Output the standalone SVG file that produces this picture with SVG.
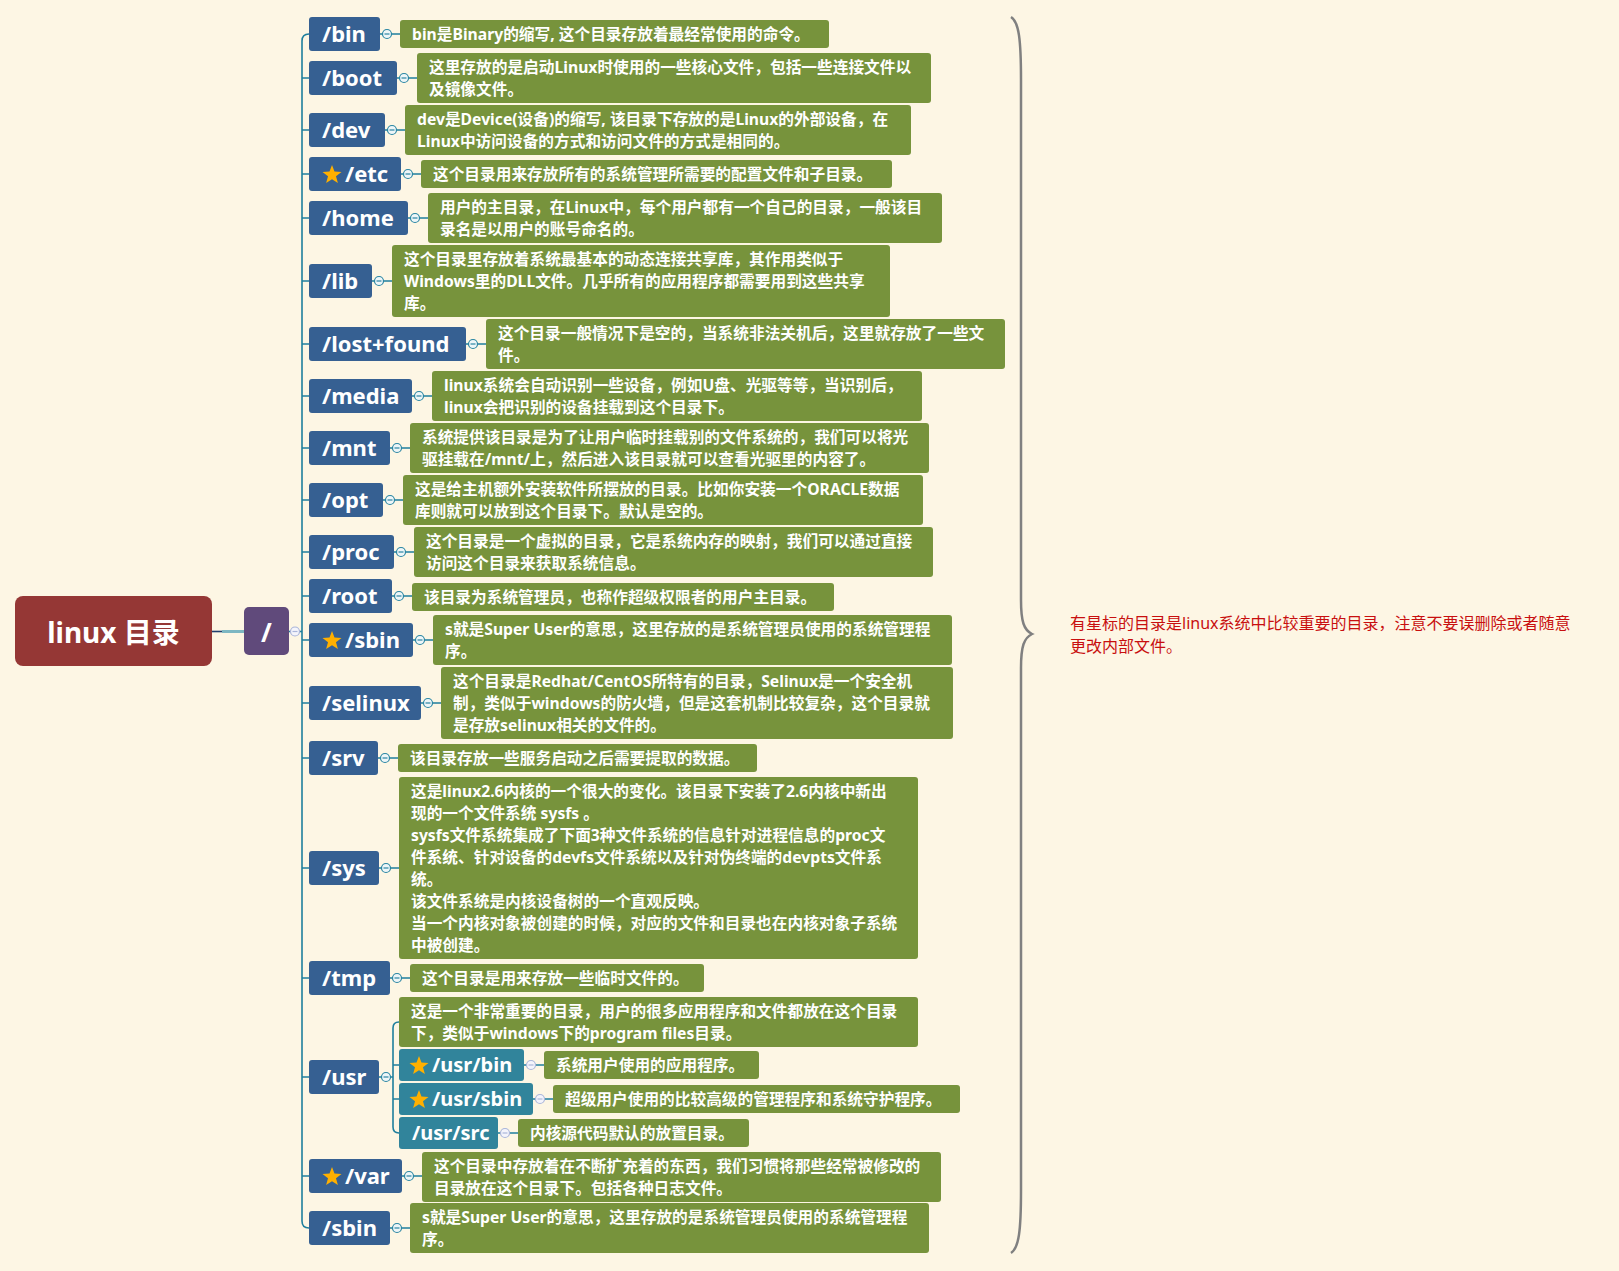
<svg xmlns="http://www.w3.org/2000/svg" xmlns:xlink="http://www.w3.org/1999/xlink" width="1619" height="1271" viewBox="0 0 1619 1271">
<style>
.node{fill:#366092}
.sub{fill:#31849B}
.desc{fill:#77933C}
.nt{font-family:"Noto Sans","Noto Sans CJK SC",sans-serif;font-weight:bold;font-size:22px;fill:#FFFFFF}
.st{font-family:"Noto Sans","Noto Sans CJK SC",sans-serif;font-weight:bold;font-size:20px;fill:#FFFFFF}
.dt{font-family:"Noto Sans","Noto Sans CJK SC",sans-serif;font-weight:bold;font-size:15.7px;fill:#FFFFFF}
.ln{stroke:#1F7F9D;stroke-width:1.6;fill:none}
.cc{fill:#EEF6F8;stroke:#2A86A3;stroke-width:1.2}
.cm{stroke:#2A86A3;stroke-width:1.2}
.cl{fill:#F4F4FB;stroke:#AAB6DA;stroke-width:1.2}
.clm{stroke:#AAB6DA;stroke-width:1.2}
.star{fill:#FFB000}
</style>
<defs>
<polygon id="star" points="0,-10 2.47,-3.4 9.51,-3.09 3.99,1.3 5.88,8.09 0,4.2 -5.88,8.09 -3.99,1.3 -9.51,-3.09 -2.47,-3.4"/>
<g id="col"><circle r="4.5" class="cc"/><line x1="-2.5" y1="0" x2="2.5" y2="0" class="cm"/></g>
<g id="coll"><circle r="4.5" class="cl"/><line x1="-2.5" y1="0" x2="2.5" y2="0" class="clm"/></g>
</defs>
<rect x="0" y="0" width="1619" height="1271" fill="#FDF6E4"/>

<g id="connectors">
<line x1="212" y1="631.5" x2="222" y2="631.5" stroke="#1F3F6E" stroke-width="1.6"/>
<line x1="222" y1="631.5" x2="244" y2="631.5" stroke="#7DB7C2" stroke-width="3"/>
<path class="ln" d="M289,631.5 H302"/>
<path class="ln" d="M309,34 Q302,34 302,41 V1221 Q302,1228 309,1228"/>
<path class="ln" d="M302,78 H309 M302,130 H309 M302,174 H309 M302,218 H309 M302,281 H309 M302,344 H309 M302,396 H309 M302,448 H309 M302,500 H309 M302,552 H309 M302,596 H309 M302,640 H309 M302,703 H309 M302,758 H309 M302,868 H309 M302,978 H309 M302,1077 H309 M302,1176 H309"/>
<path class="ln" d="M380,34 H400 M397,78 H417 M385,130 H405 M401,174 H421 M408,218 H428 M372,281 H392 M466,344 H486 M412,396 H432 M390,448 H410 M383,500 H403 M394,552 H414 M392,596 H412 M413,640 H433 M421,703 H441 M378,758 H398 M379,868 H399 M390,978 H410 M379,1077 H393 M402,1176 H422 M390,1228 H410"/>
<path class="ln" d="M399,1022 Q393,1022 393,1028 V1127 Q393,1133 399,1133 M393,1065 H399 M393,1099 H399"/>
<path class="ln" d="M524,1065 H544 M533,1099 H553 M498,1133 H518"/>
<use xlink:href="#coll" x="295" y="631.5"/>
<use xlink:href="#col" x="387" y="34"/>
<use xlink:href="#col" x="404" y="78"/>
<use xlink:href="#col" x="392" y="130"/>
<use xlink:href="#col" x="408" y="174"/>
<use xlink:href="#col" x="415" y="218"/>
<use xlink:href="#col" x="379" y="281"/>
<use xlink:href="#col" x="473" y="344"/>
<use xlink:href="#col" x="419" y="396"/>
<use xlink:href="#col" x="397" y="448"/>
<use xlink:href="#col" x="390" y="500"/>
<use xlink:href="#col" x="401" y="552"/>
<use xlink:href="#col" x="399" y="596"/>
<use xlink:href="#col" x="420" y="640"/>
<use xlink:href="#col" x="428" y="703"/>
<use xlink:href="#col" x="385" y="758"/>
<use xlink:href="#col" x="386" y="868"/>
<use xlink:href="#col" x="397" y="978"/>
<use xlink:href="#col" x="386" y="1077"/>
<use xlink:href="#col" x="409" y="1176"/>
<use xlink:href="#col" x="397" y="1228"/>
<use xlink:href="#coll" x="531" y="1065"/>
<use xlink:href="#coll" x="540" y="1099"/>
<use xlink:href="#coll" x="505" y="1133"/>
</g>

<g id="root"><rect x="15" y="596" width="197" height="70" rx="8" fill="#953735"/><text x="113.5" y="643" text-anchor="middle" font-family="Noto Sans, Noto Sans CJK SC, sans-serif" font-weight="bold" font-size="28" fill="#FFFFFF">linux 目录</text></g>
<g id="slash"><rect x="244" y="607" width="45" height="48" rx="5" fill="#604A7B"/><text x="266.5" y="642" text-anchor="middle" font-family="Noto Sans, sans-serif" font-weight="bold" font-size="26" fill="#FFFFFF">/</text></g>

<g id="n-bin"><rect class="node" x="309" y="17" width="71" height="34" rx="3"/><text class="nt" x="322" y="42">/bin</text></g>
<g id="n-boot"><rect class="node" x="309" y="61" width="88" height="34" rx="3"/><text class="nt" x="322" y="86">/boot</text></g>
<g id="n-dev"><rect class="node" x="309" y="113" width="76" height="34" rx="3"/><text class="nt" x="322" y="138">/dev</text></g>
<g id="n-etc"><rect class="node" x="309" y="157" width="92" height="34" rx="3"/><use xlink:href="#star" class="star" x="332" y="175"/><text class="nt" x="345" y="182">/etc</text></g>
<g id="n-home"><rect class="node" x="309" y="201" width="99" height="34" rx="3"/><text class="nt" x="322" y="226">/home</text></g>
<g id="n-lib"><rect class="node" x="309" y="264" width="63" height="34" rx="3"/><text class="nt" x="322" y="289">/lib</text></g>
<g id="n-lostfound"><rect class="node" x="309" y="327" width="157" height="34" rx="3"/><text class="nt" x="322" y="352">/lost+found</text></g>
<g id="n-media"><rect class="node" x="309" y="379" width="103" height="34" rx="3"/><text class="nt" x="322" y="404">/media</text></g>
<g id="n-mnt"><rect class="node" x="309" y="431" width="81" height="34" rx="3"/><text class="nt" x="322" y="456">/mnt</text></g>
<g id="n-opt"><rect class="node" x="309" y="483" width="74" height="34" rx="3"/><text class="nt" x="322" y="508">/opt</text></g>
<g id="n-proc"><rect class="node" x="309" y="535" width="85" height="34" rx="3"/><text class="nt" x="322" y="560">/proc</text></g>
<g id="n-root"><rect class="node" x="309" y="579" width="83" height="34" rx="3"/><text class="nt" x="322" y="604">/root</text></g>
<g id="n-sbin"><rect class="node" x="309" y="623" width="104" height="34" rx="3"/><use xlink:href="#star" class="star" x="332" y="641"/><text class="nt" x="345" y="648">/sbin</text></g>
<g id="n-selinux"><rect class="node" x="309" y="686" width="112" height="34" rx="3"/><text class="nt" x="322" y="711">/selinux</text></g>
<g id="n-srv"><rect class="node" x="309" y="741" width="69" height="34" rx="3"/><text class="nt" x="322" y="766">/srv</text></g>
<g id="n-sys"><rect class="node" x="309" y="851" width="70" height="34" rx="3"/><text class="nt" x="322" y="876">/sys</text></g>
<g id="n-tmp"><rect class="node" x="309" y="961" width="81" height="34" rx="3"/><text class="nt" x="322" y="986">/tmp</text></g>
<g id="n-usr"><rect class="node" x="309" y="1060" width="70" height="34" rx="3"/><text class="nt" x="322" y="1085">/usr</text></g>
<g id="n-usrbin"><rect class="sub" x="399" y="1049" width="125" height="32" rx="3"/><use xlink:href="#star" class="star" x="419" y="1066"/><text class="st" x="432" y="1072">/usr/bin</text></g>
<g id="n-usrsbin"><rect class="sub" x="399" y="1083" width="134" height="32" rx="3"/><use xlink:href="#star" class="star" x="419" y="1100"/><text class="st" x="432" y="1106">/usr/sbin</text></g>
<g id="n-usrsrc"><rect class="sub" x="399" y="1117" width="99" height="32" rx="3"/><text class="st" x="412" y="1140">/usr/src</text></g>
<g id="n-var"><rect class="node" x="309" y="1159" width="93" height="34" rx="3"/><use xlink:href="#star" class="star" x="332" y="1177"/><text class="nt" x="345" y="1184">/var</text></g>
<g id="n-sbin2"><rect class="node" x="309" y="1211" width="81" height="34" rx="3"/><text class="nt" x="322" y="1236">/sbin</text></g>

<g id="d-bin"><rect class="desc" x="400" y="20" width="429" height="28" rx="3"/><text class="dt" x="412" y="40">bin是Binary的缩写, 这个目录存放着最经常使用的命令。</text></g>
<g id="d-boot"><rect class="desc" x="417" y="53" width="514" height="50" rx="3"/><text class="dt"><tspan x="429" y="73">这里存放的是启动Linux时使用的一些核心文件，包括一些连接文件以</tspan><tspan x="429" y="95">及镜像文件。</tspan></text></g>
<g id="d-dev"><rect class="desc" x="405" y="105" width="506" height="50" rx="3"/><text class="dt"><tspan x="417" y="125">dev是Device(设备)的缩写, 该目录下存放的是Linux的外部设备，在</tspan><tspan x="417" y="147">Linux中访问设备的方式和访问文件的方式是相同的。</tspan></text></g>
<g id="d-etc"><rect class="desc" x="421" y="160" width="471" height="28" rx="3"/><text class="dt" x="433" y="180">这个目录用来存放所有的系统管理所需要的配置文件和子目录。</text></g>
<g id="d-home"><rect class="desc" x="428" y="193" width="514" height="50" rx="3"/><text class="dt"><tspan x="440" y="213">用户的主目录，在Linux中，每个用户都有一个自己的目录，一般该目</tspan><tspan x="440" y="235">录名是以用户的账号命名的。</tspan></text></g>
<g id="d-lib"><rect class="desc" x="392" y="245" width="498" height="72" rx="3"/><text class="dt"><tspan x="404" y="265">这个目录里存放着系统最基本的动态连接共享库，其作用类似于</tspan><tspan x="404" y="287">Windows里的DLL文件。几乎所有的应用程序都需要用到这些共享</tspan><tspan x="404" y="309">库。</tspan></text></g>
<g id="d-lostfound"><rect class="desc" x="486" y="319" width="519" height="50" rx="3"/><text class="dt"><tspan x="498" y="339">这个目录一般情况下是空的，当系统非法关机后，这里就存放了一些文</tspan><tspan x="498" y="361">件。</tspan></text></g>
<g id="d-media"><rect class="desc" x="432" y="371" width="490" height="50" rx="3"/><text class="dt"><tspan x="444" y="391">linux系统会自动识别一些设备，例如U盘、光驱等等，当识别后，</tspan><tspan x="444" y="413">linux会把识别的设备挂载到这个目录下。</tspan></text></g>
<g id="d-mnt"><rect class="desc" x="410" y="423" width="519" height="50" rx="3"/><text class="dt"><tspan x="422" y="443">系统提供该目录是为了让用户临时挂载别的文件系统的，我们可以将光</tspan><tspan x="422" y="465">驱挂载在/mnt/上，然后进入该目录就可以查看光驱里的内容了。</tspan></text></g>
<g id="d-opt"><rect class="desc" x="403" y="475" width="520" height="50" rx="3"/><text class="dt"><tspan x="415" y="495">这是给主机额外安装软件所摆放的目录。比如你安装一个ORACLE数据</tspan><tspan x="415" y="517">库则就可以放到这个目录下。默认是空的。</tspan></text></g>
<g id="d-proc"><rect class="desc" x="414" y="527" width="519" height="50" rx="3"/><text class="dt"><tspan x="426" y="547">这个目录是一个虚拟的目录，它是系统内存的映射，我们可以通过直接</tspan><tspan x="426" y="569">访问这个目录来获取系统信息。</tspan></text></g>
<g id="d-root"><rect class="desc" x="412" y="583" width="422" height="28" rx="3"/><text class="dt" x="424" y="603">该目录为系统管理员，也称作超级权限者的用户主目录。</text></g>
<g id="d-sbin"><rect class="desc" x="433" y="615" width="519" height="50" rx="3"/><text class="dt"><tspan x="445" y="635">s就是Super User的意思，这里存放的是系统管理员使用的系统管理程</tspan><tspan x="445" y="657">序。</tspan></text></g>
<g id="d-selinux"><rect class="desc" x="441" y="667" width="512" height="72" rx="3"/><text class="dt"><tspan x="453" y="687">这个目录是Redhat/CentOS所特有的目录，Selinux是一个安全机</tspan><tspan x="453" y="709">制，类似于windows的防火墙，但是这套机制比较复杂，这个目录就</tspan><tspan x="453" y="731">是存放selinux相关的文件的。</tspan></text></g>
<g id="d-srv"><rect class="desc" x="398" y="744" width="359" height="28" rx="3"/><text class="dt" x="410" y="764">该目录存放一些服务启动之后需要提取的数据。</text></g>
<g id="d-sys"><rect class="desc" x="399" y="777" width="519" height="182" rx="3"/><text class="dt"><tspan x="411" y="797">这是linux2.6内核的一个很大的变化。该目录下安装了2.6内核中新出</tspan><tspan x="411" y="819">现的一个文件系统 sysfs 。</tspan><tspan x="411" y="841">sysfs文件系统集成了下面3种文件系统的信息针对进程信息的proc文</tspan><tspan x="411" y="863">件系统、针对设备的devfs文件系统以及针对伪终端的devpts文件系</tspan><tspan x="411" y="885">统。</tspan><tspan x="411" y="907">该文件系统是内核设备树的一个直观反映。</tspan><tspan x="411" y="929">当一个内核对象被创建的时候，对应的文件和目录也在内核对象子系统</tspan><tspan x="411" y="951">中被创建。</tspan></text></g>
<g id="d-tmp"><rect class="desc" x="410" y="964" width="294" height="28" rx="3"/><text class="dt" x="422" y="984">这个目录是用来存放一些临时文件的。</text></g>
<g id="d-usr"><rect class="desc" x="399" y="997" width="519" height="50" rx="3"/><text class="dt"><tspan x="411" y="1017">这是一个非常重要的目录，用户的很多应用程序和文件都放在这个目录</tspan><tspan x="411" y="1039">下，类似于windows下的program files目录。</tspan></text></g>
<g id="d-usrbin"><rect class="desc" x="544" y="1051" width="215" height="28" rx="3"/><text class="dt" x="556" y="1071">系统用户使用的应用程序。</text></g>
<g id="d-usrsbin"><rect class="desc" x="553" y="1085" width="407" height="28" rx="3"/><text class="dt" x="565" y="1105">超级用户使用的比较高级的管理程序和系统守护程序。</text></g>
<g id="d-usrsrc"><rect class="desc" x="518" y="1119" width="231" height="28" rx="3"/><text class="dt" x="530" y="1139">内核源代码默认的放置目录。</text></g>
<g id="d-var"><rect class="desc" x="422" y="1152" width="519" height="50" rx="3"/><text class="dt"><tspan x="434" y="1172">这个目录中存放着在不断扩充着的东西，我们习惯将那些经常被修改的</tspan><tspan x="434" y="1194">目录放在这个目录下。包括各种日志文件。</tspan></text></g>
<g id="d-sbin2"><rect class="desc" x="410" y="1203" width="519" height="50" rx="3"/><text class="dt"><tspan x="422" y="1223">s就是Super User的意思，这里存放的是系统管理员使用的系统管理程</tspan><tspan x="422" y="1245">序。</tspan></text></g>

<g id="brace"><path d="M1011,17 C1019,22 1021,40 1021,80 L1021,600 C1021,622 1024,630 1032,634 C1024,638 1021,646 1021,668 L1021,1190 C1021,1230 1019,1248 1011,1253" fill="none" stroke="#808080" stroke-width="2.5"/></g>
<g id="note"><text font-family="Noto Sans, Noto Sans CJK SC, sans-serif" font-size="16" fill="#C80F0F"><tspan x="1070" y="629">有星标的目录是linux系统中比较重要的目录，注意不要误删除或者随意</tspan><tspan x="1070" y="652">更改内部文件。</tspan></text></g>
</svg>
